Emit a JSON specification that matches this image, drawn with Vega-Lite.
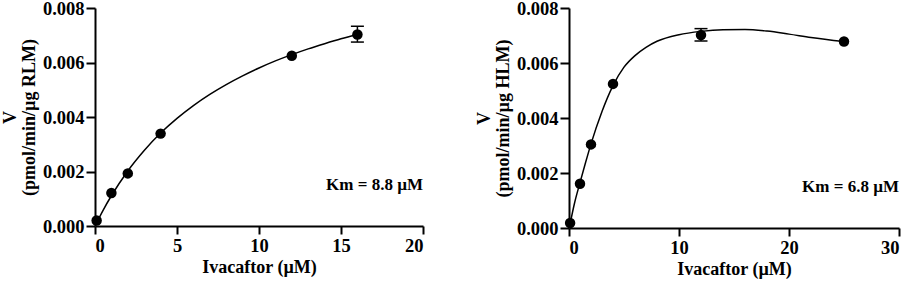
{
  "$schema": "https://vega.github.io/schema/vega-lite/v6.json",
  "background": "white",
  "padding": {"left": 1, "top": -1, "right": 5, "bottom": 0},
  "config": {
    "font": "Liberation Serif",
    "view": {"stroke": null},
    "axis": {
      "domainColor": "black", "domainWidth": 2,
      "ticks": true,
      "tickColor": "black", "tickWidth": 2, "tickSize": 8,
      "labelFont": "Liberation Serif", "labelFontWeight": "bold", "labelFontSize": 18.5, "labelColor": "black",
      "titleFont": "Liberation Serif", "titleFontWeight": "bold", "titleFontSize": 18, "titleColor": "black",
      "titleLineHeight": 19,
      "grid": false, "labelPadding": 2, "titlePadding": 4
    },
    "axisY": {"tickSize": 9},
    "concat": {"spacing": 51}
  },
  "datasets": {
    "rlm_pts": [
      {"x": 0.1, "v": 0.0002},
      {"x": 1, "v": 0.00121},
      {"x": 2, "v": 0.00193},
      {"x": 4, "v": 0.00339},
      {"x": 12, "v": 0.00625},
      {"x": 16, "v": 0.00703, "lo": 0.00675, "hi": 0.00733}
    ],
    "rlm_fit": [
      {"x": 0.1, "v": 0.00012}, {"x": 0.5, "v": 0.000586}, {"x": 1, "v": 0.00111},
      {"x": 2, "v": 0.00202}, {"x": 3, "v": 0.00277}, {"x": 4, "v": 0.00341},
      {"x": 5, "v": 0.00395}, {"x": 6, "v": 0.00442}, {"x": 7, "v": 0.00483},
      {"x": 8, "v": 0.00519}, {"x": 9, "v": 0.00551}, {"x": 10, "v": 0.0058},
      {"x": 11, "v": 0.00606}, {"x": 12, "v": 0.00629}, {"x": 13, "v": 0.0065},
      {"x": 14, "v": 0.00669}, {"x": 15, "v": 0.00687}, {"x": 16, "v": 0.00703}
    ],
    "rlm_note": [{"x": 20, "v": 0.0015, "label": "Km = 8.8 µM"}],
    "hlm_pts": [
      {"x": 0.1, "v": 0.00018},
      {"x": 1, "v": 0.00161},
      {"x": 2, "v": 0.00304},
      {"x": 4, "v": 0.00524},
      {"x": 12, "v": 0.00702, "lo": 0.0068, "hi": 0.00725},
      {"x": 25, "v": 0.00678}
    ],
    "hlm_fit": [
      {"x": 0.1, "v": 0.00015}, {"x": 0.5, "v": 0.0009}, {"x": 1, "v": 0.00165},
      {"x": 1.5, "v": 0.00237}, {"x": 2, "v": 0.00306}, {"x": 3, "v": 0.00424},
      {"x": 4, "v": 0.00518}, {"x": 5, "v": 0.00585}, {"x": 6, "v": 0.00627},
      {"x": 7, "v": 0.00657}, {"x": 8, "v": 0.00679}, {"x": 10, "v": 0.00703},
      {"x": 12, "v": 0.00715}, {"x": 14, "v": 0.00721}, {"x": 16, "v": 0.00722},
      {"x": 18, "v": 0.00716}, {"x": 20, "v": 0.00705}, {"x": 22, "v": 0.00693},
      {"x": 25, "v": 0.00678}
    ],
    "hlm_minor": [
      {"x": 1}, {"x": 2}, {"x": 3}, {"x": 4}, {"x": 5}, {"x": 6}, {"x": 7}, {"x": 8}, {"x": 9},
      {"x": 11}, {"x": 12}, {"x": 13}, {"x": 14}, {"x": 15}, {"x": 16}, {"x": 17}, {"x": 18}, {"x": 19},
      {"x": 21}, {"x": 22}, {"x": 23}, {"x": 24}, {"x": 25}, {"x": 26}, {"x": 27}, {"x": 28}, {"x": 29}
    ],
    "hlm_note": [{"x": 30, "v": 0.0015, "label": "Km = 6.8 µM"}]
  },
  "hconcat": [
    {
      "width": 328,
      "height": 218,
      "encoding": {
        "x": {"field": "x", "type": "quantitative",
              "scale": {"domain": [0, 20], "nice": false},
              "axis": {"values": [0, 5, 10, 15, 20], "title": "Ivacaftor (µM)"}},
        "y": {"field": "v", "type": "quantitative",
              "scale": {"domain": [0, 0.008], "nice": false},
              "axis": {"values": [0, 0.002, 0.004, 0.006, 0.008], "format": ".3f",
                       "title": ["V", "(pmol/min/µg RLM)"]}}
      },
      "layer": [
        {"data": {"name": "rlm_fit"},
         "mark": {"type": "line", "color": "black", "strokeWidth": 1.5, "interpolate": "monotone"}},
        {"data": {"name": "rlm_pts"}, "transform": [{"filter": "isValid(datum.lo)"}],
         "mark": {"type": "rule", "color": "black", "strokeWidth": 1.5},
         "encoding": {"y": {"field": "lo", "type": "quantitative"}, "y2": {"field": "hi"}}},
        {"data": {"name": "rlm_pts"}, "transform": [{"filter": "isValid(datum.lo)"}],
         "mark": {"type": "tick", "orient": "horizontal", "size": 13, "thickness": 1.5, "color": "black", "opacity": 1},
         "encoding": {"y": {"field": "lo", "type": "quantitative"}}},
        {"data": {"name": "rlm_pts"}, "transform": [{"filter": "isValid(datum.lo)"}],
         "mark": {"type": "tick", "orient": "horizontal", "size": 13, "thickness": 1.5, "color": "black", "opacity": 1},
         "encoding": {"y": {"field": "hi", "type": "quantitative"}}},
        {"data": {"name": "rlm_pts"},
         "mark": {"type": "circle", "size": 110, "color": "black", "opacity": 1}},
        {"data": {"name": "rlm_note"},
         "mark": {"type": "text", "align": "right", "baseline": "middle", "font": "Liberation Serif", "fontWeight": "bold", "fontSize": 17, "color": "black"},
         "encoding": {"text": {"field": "label"}}}
      ]
    },
    {
      "width": 330,
      "height": 220,
      "encoding": {
        "x": {"field": "x", "type": "quantitative",
              "scale": {"domain": [0, 30], "nice": false},
              "axis": {"values": [0, 10, 20, 30], "tickSize": 8, "title": "Ivacaftor (µM)"}},
        "y": {"field": "v", "type": "quantitative",
              "scale": {"domain": [0, 0.008], "nice": false},
              "axis": {"values": [0, 0.002, 0.004, 0.006, 0.008], "format": ".3f",
                       "title": ["V", "(pmol/min/µg HLM)"]}}
      },
      "layer": [
        {"data": {"name": "hlm_minor"},
         "mark": {"type": "tick", "orient": "vertical", "size": 5, "thickness": 2, "color": "black", "opacity": 1, "yOffset": 3.5, "clip": false},
         "encoding": {"y": {"datum": 0, "type": "quantitative"}}},
        {"data": {"name": "hlm_fit"},
         "mark": {"type": "line", "color": "black", "strokeWidth": 1.5, "interpolate": "monotone"}},
        {"data": {"name": "hlm_pts"}, "transform": [{"filter": "isValid(datum.lo)"}],
         "mark": {"type": "rule", "color": "black", "strokeWidth": 1.5},
         "encoding": {"y": {"field": "lo", "type": "quantitative"}, "y2": {"field": "hi"}}},
        {"data": {"name": "hlm_pts"}, "transform": [{"filter": "isValid(datum.lo)"}],
         "mark": {"type": "tick", "orient": "horizontal", "size": 13, "thickness": 1.5, "color": "black", "opacity": 1},
         "encoding": {"y": {"field": "lo", "type": "quantitative"}}},
        {"data": {"name": "hlm_pts"}, "transform": [{"filter": "isValid(datum.lo)"}],
         "mark": {"type": "tick", "orient": "horizontal", "size": 13, "thickness": 1.5, "color": "black", "opacity": 1},
         "encoding": {"y": {"field": "hi", "type": "quantitative"}}},
        {"data": {"name": "hlm_pts"},
         "mark": {"type": "circle", "size": 110, "color": "black", "opacity": 1}},
        {"data": {"name": "hlm_note"},
         "mark": {"type": "text", "align": "right", "baseline": "middle", "font": "Liberation Serif", "fontWeight": "bold", "fontSize": 17, "color": "black"},
         "encoding": {"text": {"field": "label"}}}
      ]
    }
  ]
}
